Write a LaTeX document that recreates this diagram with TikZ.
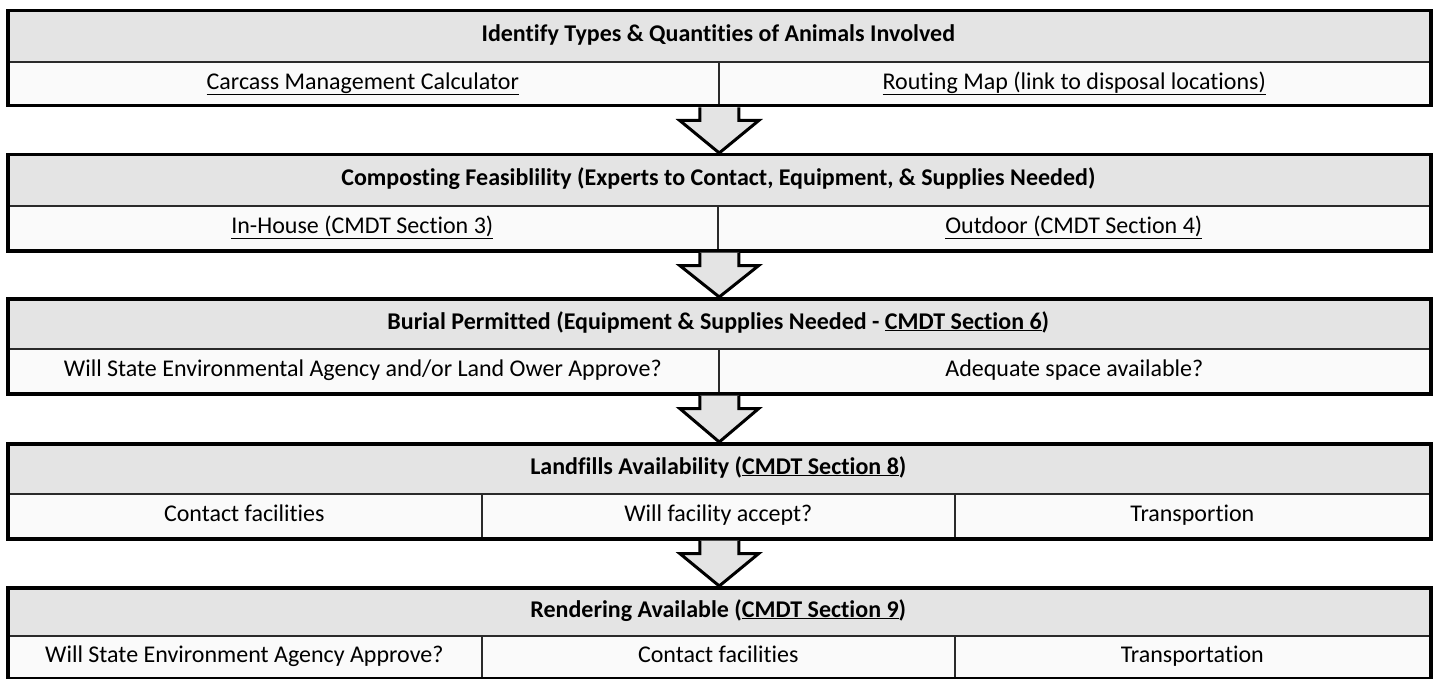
\documentclass[tikz,border=0pt]{standalone}
\usepackage{fontspec}
\setmainfont{Carlito}[Ligatures=NoCommon]
\usetikzlibrary{calc}
\definecolor{hdrgray}{HTML}{E4E4E4}
\definecolor{cellwhite}{HTML}{FAFAFA}
\definecolor{linegray}{HTML}{2A2A2A}
\tikzset{
  stagebox/.style={draw=black, line width=3.5pt, inner sep=0pt, anchor=north west},
  hdr/.style={fill=hdrgray, draw=linegray, line width=1.6pt, inner sep=0pt, anchor=north west,
    text height=16.5pt, text depth=5pt, font=\fontsize{24}{28}\selectfont\bfseries},
  cell/.style={fill=cellwhite, draw=linegray, line width=1.6pt, inner sep=0pt, anchor=north west,
    text height=16.5pt, text depth=5pt, font=\fontsize{24}{28}\selectfont},
  blockarrow/.style={fill=hdrgray, draw=black, line width=3pt, line join=miter}
}
\begin{document}
\begin{tikzpicture}[x=1pt,y=-1pt]
\useasboundingbox (0,0) rectangle (1434,679);
% ---------- Stage 1
\node[hdr, minimum width=1423pt, minimum height=52pt] (h1) at (6,9) {Identify Types \& Quantities of Animals Involved};
\node[cell, minimum width=712pt, minimum height=43pt] (c11) at (6,61) {\underline{Carcass Management Calculator}};
\node[cell, minimum width=711pt, minimum height=43pt] (c12) at (718,61) {\underline{Routing Map (link to disposal locations)}};
\node[stagebox, minimum width=1423pt, minimum height=95pt] (s1) at (6,9) {};
% ---------- Stage 2
\node[hdr, minimum width=1423pt, minimum height=52pt] (h2) at (6,153) {Composting Feasiblility (Experts to Contact, Equipment, \& Supplies Needed)};
\node[cell, minimum width=711pt, minimum height=44pt] (c21) at (6,205) {\underline{In-House (CMDT Section 3)}};
\node[cell, minimum width=712pt, minimum height=44pt] (c22) at (717,205) {\underline{Outdoor (CMDT Section 4)}};
\node[stagebox, minimum width=1423pt, minimum height=96pt] (s2) at (6,153) {};
% ---------- Stage 3
\node[hdr, minimum width=1423pt, minimum height=51pt] (h3) at (6,297) {Burial Permitted (Equipment \& Supplies Needed - \underline{CMDT Section 6})};
\node[cell, minimum width=712pt, minimum height=44pt] (c31) at (6,348) {Will State Environmental Agency and/or Land Ower Approve?};
\node[cell, minimum width=711pt, minimum height=44pt] (c32) at (718,348) {Adequate space available?};
\node[stagebox, minimum width=1423pt, minimum height=95pt] (s3) at (6,297) {};
% ---------- Stage 4
\node[hdr, minimum width=1423pt, minimum height=51pt] (h4) at (6,442) {Landfills Availability (\underline{CMDT Section 8})};
\node[cell, minimum width=475pt, minimum height=44pt] (c41) at (6,493) {Contact facilities};
\node[cell, minimum width=473pt, minimum height=44pt] (c42) at (481,493) {Will facility accept?};
\node[cell, minimum width=475pt, minimum height=44pt] (c43) at (954,493) {Transportion};
\node[stagebox, minimum width=1423pt, minimum height=95pt] (s4) at (6,442) {};
% ---------- Stage 5
\node[hdr, minimum width=1423pt, minimum height=49pt] (h5) at (6,586) {Rendering Available (\underline{CMDT Section 9})};
\node[cell, minimum width=475pt, minimum height=42pt] (c51) at (6,635) {Will State Environment Agency Approve?};
\node[cell, minimum width=473pt, minimum height=42pt] (c52) at (481,635) {Contact facilities};
\node[cell, minimum width=475pt, minimum height=42pt] (c53) at (954,635) {Transportation};
\node[stagebox, minimum width=1423pt, minimum height=91pt] (s5) at (6,586) {};
% ---------- Block arrows
\foreach \a/\b in {s1/s2, s2/s3, s3/s4, s4/s5}{
  \draw[blockarrow] let \p1=(\a.south), \p2=(\b.north) in
    (\x1-19.5pt,\y1) -- (\x1-19.5pt,\y1-13pt) -- (\x1-39.5pt,\y1-13pt) -- (\x1,\y2)
    -- (\x1+39.5pt,\y1-13pt) -- (\x1+19.5pt,\y1-13pt) -- (\x1+19.5pt,\y1);
}
\end{tikzpicture}
\end{document}
